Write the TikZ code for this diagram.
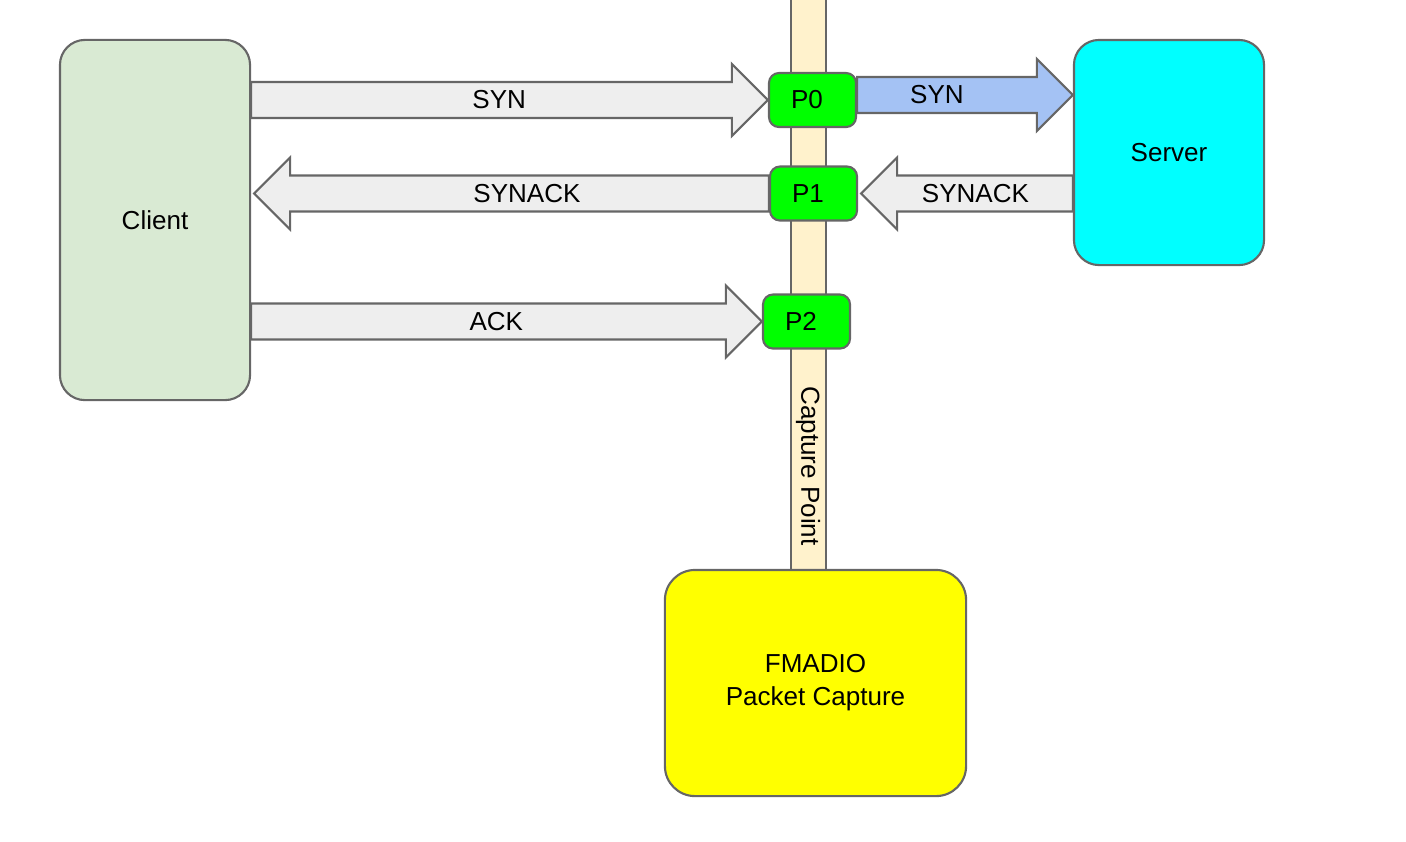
\documentclass[tikz,border=0pt]{standalone}
\usepackage{fontspec}
\setmainfont{Liberation Sans}
\usetikzlibrary{calc,backgrounds}

\definecolor{edgegray}{HTML}{666666}
\definecolor{clientgreen}{HTML}{D9EAD3}
\definecolor{servercyan}{HTML}{00FFFF}
\definecolor{capyellow}{HTML}{FFFF00}
\definecolor{pktgreen}{HTML}{00FF00}
\definecolor{barcream}{HTML}{FFF2CC}
\definecolor{arrowgray}{HTML}{EEEEEE}
\definecolor{arrowblue}{HTML}{A4C2F4}

\tikzset{
  lbl/.style={font=\fontsize{7.4}{9.4}\selectfont},
  host/.style={draw=edgegray, line width=0.6pt, rounded corners=0.25cm, lbl},
  pkt/.style={draw=edgegray, line width=0.6pt, fill=pktgreen, rounded corners=0.1cm,
    minimum width=0.87cm, minimum height=0.54cm, inner sep=0pt, lbl,
    execute at end node={\hspace{0.11cm}}},
  blockarrow/.style={draw=edgegray, line width=0.6pt, fill=arrowgray, line join=miter},
}

% fat arrow: style, from, to, label pos, label
\newcommand\blockarrow[5]{%
  \draw[blockarrow,#1] ($(#2)!0.18cm!90:(#3)$)
    -- ($(#3)!0.36cm!(#2)!0.18cm!90:(#3)$)
    -- ($(#3)!0.36cm!(#2)!0.36cm!90:(#3)$)
    -- (#3)
    -- ($(#3)!0.36cm!(#2)!0.36cm!-90:(#3)$)
    -- ($(#3)!0.36cm!(#2)!0.18cm!-90:(#3)$)
    -- ($(#2)!0.18cm!-90:(#3)$) -- cycle;
  \path ($(#2)!#4!(#3)$) node[lbl] {#5};
}

\begin{document}
\begin{tikzpicture}[x=0.01cm, y=-0.01cm]
\useasboundingbox (0,0) rectangle (1406,841);

\node[host, fill=clientgreen, minimum width=1.9cm, minimum height=3.6cm] (client) at (155,220) {Client};
\node[host, fill=servercyan, minimum width=1.9cm, minimum height=2.25cm] (server) at (1169,152.5) {Server};
\node[host, fill=capyellow, rounded corners=0.3cm, minimum width=3.01cm, minimum height=2.26cm,
  align=center] (fmadio) at (815.5,683) {\raisebox{-0.03cm}{FMADIO}\\\raisebox{-0.03cm}{Packet Capture}};

\node[pkt] (p0) at (812.5,100) {P0};
\node[pkt] (p1) at (813.5,193.5) {P1};
\node[pkt] (p2) at (806.5,321.5) {P2};

\node[lbl, rotate=-90] (cpoint) at (808,466) {Capture Point};

\coordinate (synfrom) at ($(p0.east)+(0,-5)$);
\coordinate (synto) at (server.west |- synfrom);
\coordinate (ackfrom) at (client.east |- p2);

\begin{pgfonlayer}{background}
  \node[fill=barcream, inner sep=0pt, minimum width=0.33cm, minimum height=5.7cm] (cbar) at (808.5,285) {};
  \draw[edgegray, line width=0.6pt] (cbar.north west) -- (cbar.south west)
    (cbar.north east) -- (cbar.south east);

  \blockarrow{}{client.east |- p0}{p0.west}{0.48}{SYN}
  \blockarrow{}{p1.west}{$(client.east |- p1)+(3,0)$}{0.47}{SYNACK}
  \blockarrow{}{ackfrom}{p2.west}{0.48}{ACK}
  \blockarrow{fill=arrowblue}{synfrom}{synto}{0.37}{SYN}
  \blockarrow{}{server.west |- p1}{$(p1.east)+(3,0)$}{0.46}{SYNACK}
\end{pgfonlayer}
\end{tikzpicture}
\end{document}
